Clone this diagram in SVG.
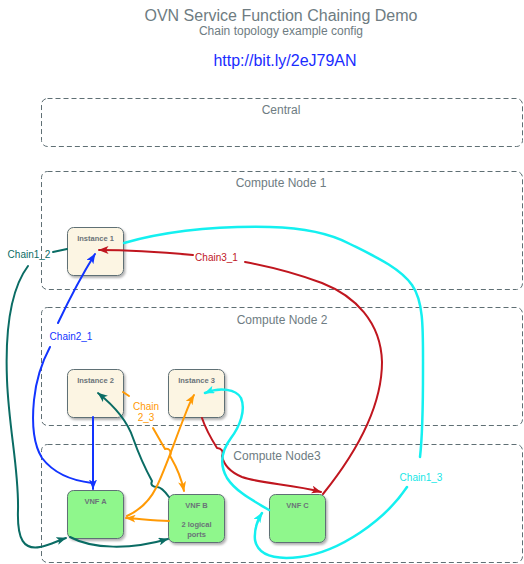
<svg xmlns="http://www.w3.org/2000/svg" width="524" height="564" viewBox="0 0 524 564">
  <style>
    .title { font-family: "Liberation Sans", Arial, sans-serif; fill: #6e7c82; text-anchor: middle; }
    .zone { fill: none; stroke: #5f6f74; stroke-width: 1; stroke-dasharray: 5 3; }
    .zlabel { font-family: "Liberation Sans", Arial, sans-serif; font-size: 12px; fill: #6e7c82; text-anchor: middle; }
    .box { stroke: #5f6f74; stroke-width: 1; filter: url(#shadow); }
    .inst { fill: #fcf5e3; }
    .vnf { fill: #8ff78c; }
    .nlabel { font-family: "Liberation Sans", Arial, sans-serif; font-size: 7.5px; font-weight: bold; fill: #6a7378; text-anchor: middle; }
    .edge { fill: none; stroke-width: 2; stroke-linecap: round; stroke-linejoin: round; }
    .clabel { font-family: "Liberation Sans", Arial, sans-serif; font-size: 10px; text-anchor: middle; }
    .teal { stroke: #0a6c64; }
    .blue { stroke: #1234ff; }
    .red { stroke: #c0161f; }
    .cyan { stroke: #14f0f0; stroke-width: 2.5; }
    .orange { stroke: #ff9a05; }
  </style>
  <defs>
    <filter id="shadow" x="-20%" y="-20%" width="150%" height="150%">
      <feDropShadow dx="1.5" dy="2" stdDeviation="1.2" flood-color="#000" flood-opacity="0.3"/>
    </filter>
    <marker id="a-teal" viewBox="0 0 10 8" refX="9.5" refY="4" markerWidth="10" markerHeight="8" markerUnits="userSpaceOnUse" orient="auto"><path d="M0,0 L10,4 L0,8 L2.5,4 z" fill="#0a6c64"/></marker>
    <marker id="a-blue" viewBox="0 0 10 8" refX="9.5" refY="4" markerWidth="10" markerHeight="8" markerUnits="userSpaceOnUse" orient="auto"><path d="M0,0 L10,4 L0,8 L2.5,4 z" fill="#1234ff"/></marker>
    <marker id="a-red" viewBox="0 0 10 8" refX="9.5" refY="4" markerWidth="10" markerHeight="8" markerUnits="userSpaceOnUse" orient="auto"><path d="M0,0 L10,4 L0,8 L2.5,4 z" fill="#c0161f"/></marker>
    <marker id="a-cyan" viewBox="0 0 10 8" refX="9.5" refY="4" markerWidth="10" markerHeight="8" markerUnits="userSpaceOnUse" orient="auto"><path d="M0,0 L10,4 L0,8 L2.5,4 z" fill="#14f0f0"/></marker>
    <marker id="a-orange" viewBox="0 0 10 8" refX="9.5" refY="4" markerWidth="10" markerHeight="8" markerUnits="userSpaceOnUse" orient="auto"><path d="M0,0 L10,4 L0,8 L2.5,4 z" fill="#ff9a05"/></marker>
  </defs>

  <rect width="524" height="564" fill="#ffffff"/>

  <!-- heading -->
  <text class="title" x="281" y="21" font-size="16">OVN Service Function Chaining Demo</text>
  <text class="title" x="281" y="35" font-size="12">Chain topology example config</text>
  <text x="285" y="66" font-family="Liberation Sans, Arial, sans-serif" font-size="16" fill="#1a2cff" text-anchor="middle">http://bit.ly/2eJ79AN</text>

  <!-- host zones -->
  <g id="central">
    <rect class="zone" x="41.5" y="98.5" width="481" height="48" rx="6"/>
    <text class="zlabel" x="281" y="114">Central</text>
  </g>
  <g id="compute-node-1">
    <rect class="zone" x="41.5" y="171.5" width="481" height="118" rx="6"/>
    <text class="zlabel" x="281" y="187">Compute Node 1</text>
  </g>
  <g id="compute-node-2">
    <rect class="zone" x="41.5" y="307.5" width="481" height="118" rx="6"/>
    <text class="zlabel" x="282" y="324">Compute Node 2</text>
  </g>
  <g id="compute-node-3">
    <rect class="zone" x="41.5" y="444.5" width="481" height="118" rx="6"/>
    <text class="zlabel" x="277" y="460">Compute Node3</text>
  </g>

  <!-- instances and VNFs -->
  <g id="instance-1">
    <rect class="box inst" x="67.5" y="227.5" width="56" height="48" rx="6"/>
    <text class="nlabel" x="95.5" y="240.5">Instance 1</text>
  </g>
  <g id="instance-2">
    <rect class="box inst" x="67.5" y="369.5" width="56" height="48" rx="6"/>
    <text class="nlabel" x="95.5" y="382.5">Instance 2</text>
  </g>
  <g id="instance-3">
    <rect class="box inst" x="168.5" y="369.5" width="56" height="48" rx="6"/>
    <text class="nlabel" x="196.5" y="382.5">Instance 3</text>
  </g>
  <g id="vnf-a">
    <rect class="box vnf" x="67.5" y="490.5" width="56" height="48" rx="6"/>
    <text class="nlabel" x="95.5" y="503.5">VNF A</text>
  </g>
  <g id="vnf-b">
    <rect class="box vnf" x="168.5" y="494.5" width="56" height="48" rx="6"/>
    <text class="nlabel" x="196.5" y="507.5">VNF B</text>
    <text class="nlabel" x="196.5" y="527">2 logical</text>
    <text class="nlabel" x="196.5" y="537">ports</text>
  </g>
  <g id="vnf-c">
    <rect class="box vnf" x="269.5" y="494.5" width="56" height="48" rx="6"/>
    <text class="nlabel" x="297.5" y="507.5">VNF C</text>
  </g>

  <!-- chain hops -->
  <g id="connectors">
    <!-- Chain1_2 -->
    <path class="edge teal" d="M67,249 L53,252"/>
    <path class="edge teal" d="M28,266 C10,290 5,330 7,380 C9,430 19,470 18,510 C17,540 24,550 40,547 C50,545 57,541 66,538" marker-end="url(#a-teal)"/>
    <path class="edge teal" d="M70,537 C92,549 130,550 168,539" marker-end="url(#a-teal)"/>
    <path class="edge teal" d="M169,497 C164,490 160,487 157,487 C153,487 150,485 152,481 C146,470 139,455 133,438 C127,420 113,405 98,393" marker-end="url(#a-teal)"/>
    <text class="clabel" x="29" y="257.5" fill="#0a6c64">Chain1_2</text>

    <!-- Chain2_1 -->
    <path class="edge blue" d="M93,417 L93,489" marker-end="url(#a-blue)"/>
    <path class="edge blue" d="M92,483 C75,481 55,475 42,458 C32,442 32,420 34,400 C36,380 42,362 50,347"/>
    <path class="edge blue" d="M58,323 C68,302 80,278 95,254" marker-end="url(#a-blue)"/>
    <text class="clabel" x="71" y="339.5" fill="#1234ff">Chain2_1</text>

    <!-- Chain3_1 -->
    <path class="edge red" d="M202,418 C206,430 212,440 217,448 C221,448 224,451 222,456 C224,466 230,472 242,477 C262,484 292,484 321,492" marker-end="url(#a-red)"/>
    <path class="edge red" d="M323,494 C352,458 382,410 382,362 C381,322 355,296 322,283 C298,274 272,267 245,262"/>
    <path class="edge red" d="M193,255 C160,252 130,250 99,250" marker-end="url(#a-red)"/>
    <text class="clabel" x="216.5" y="260.5" fill="#c0161f">Chain3_1</text>

    <!-- Chain1_3 -->
    <path class="edge cyan" d="M124,243 C170,230 220,226 270,227 C310,228 335,236 350,244 C376,257 400,268 412,285 C424,302 423,330 423,370 C423,410 422,440 420,457"/>
    <path class="edge cyan" d="M407,487 C385,520 340,552 300,557 C275,560 258,556 255,540 C254,530 257,521 262,513" marker-end="url(#a-cyan)"/>
    <path class="edge cyan" d="M269,510 C254,501 236,492 227,478 C219,464 222,450 231,438 C240,426 246,410 241,398 C236,389 220,387 205,393" marker-end="url(#a-cyan)"/>
    <text class="clabel" x="421" y="480.5" fill="#14e6e6">Chain1_3</text>

    <!-- Chain 2_3 -->
    <path class="edge orange" d="M123,392 L129,396"/>
    <path class="edge orange" d="M153,428 C157,435 161,442 165,449 C169,448 172,451 170,456 C174,463 180,472 184,491" marker-end="url(#a-orange)"/>
    <path class="edge orange" d="M169,521 C155,521 141,519 126,518" marker-end="url(#a-orange)"/>
    <path class="edge orange" d="M127,516 C140,510 150,500 156,488 C165,470 175,440 185,415 C188,407 191,400 194,395" marker-end="url(#a-orange)"/>
    <text class="clabel" x="146" y="410" fill="#ff9a05">Chain</text>
    <text class="clabel" x="146" y="421" fill="#ff9a05">2_3</text>
  </g>
</svg>
